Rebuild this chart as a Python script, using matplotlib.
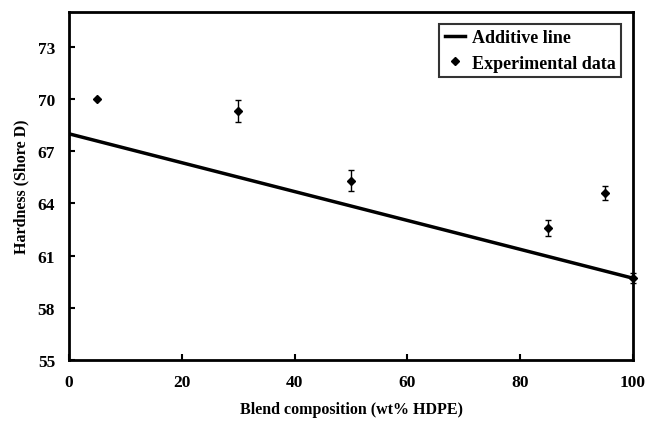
import matplotlib
matplotlib.use("Agg")
import matplotlib.pyplot as plt
from matplotlib.lines import Line2D

# Data
blend_x = [5, 30, 50, 85, 95, 100]
hardness = [70.0, 69.3, 65.3, 62.6, 64.6, 59.7]
hardness_err = [0.0, 0.65, 0.6, 0.45, 0.4, 0.3]
additive_x = [0, 100]
additive_y = [68.0, 59.7]
xticks = [0, 20, 40, 60, 80, 100]
yticks = [55, 58, 61, 64, 67, 70, 73]

plt.rcParams['font.family'] = ['Liberation Serif', 'DejaVu Serif']
plt.rcParams['font.weight'] = 'bold'

fig = plt.figure(figsize=(6.46, 4.27), dpi=100)
ax = fig.add_axes([69/646, 66/427, 564/646, 348/427])

ax.plot(additive_x, additive_y, color='black', lw=2.5, zorder=3)
ax.errorbar(blend_x, hardness, yerr=hardness_err, fmt='D', color='black', ms=4.5,
            ecolor='black', elinewidth=1, capsize=2.5, capthick=1,
            zorder=4, clip_on=False)

ax.set_xlim(0, 100)
ax.set_ylim(55, 75)
ax.set_xticks(xticks)
ax.set_yticks(yticks)
ax.tick_params(direction='in', length=4, width=1.5, labelsize=12.5, pad=10)
for lbl in ax.get_xticklabels() + ax.get_yticklabels():
    lbl.set_fontweight('bold')
for s in ax.spines.values():
    s.set_linewidth(2)

ax.set_xlabel('Blend composition (wt% HDPE)', fontsize=11.5, fontweight='bold', labelpad=8)
ax.set_ylabel('Hardness (Shore D)', fontsize=11.5, fontweight='bold', labelpad=6)

handles = [Line2D([], [], color='black', lw=2.5),
           Line2D([], [], color='black', marker='D', ms=4, ls='none')]
labels = ['Additive line', 'Experimental data']
leg = ax.legend(handles, labels, loc='upper right', bbox_to_anchor=(1 - 12/564, 1 - 12/348),
                fontsize=13, frameon=True, fancybox=False, edgecolor='black',
                handlelength=1.1, handletextpad=0.4, labelspacing=0.45, borderpad=0.3,
                borderaxespad=0)
leg.get_frame().set_linewidth(1.5)
for t in leg.get_texts():
    t.set_fontweight('bold')

fig.savefig('out.png', dpi=100)
